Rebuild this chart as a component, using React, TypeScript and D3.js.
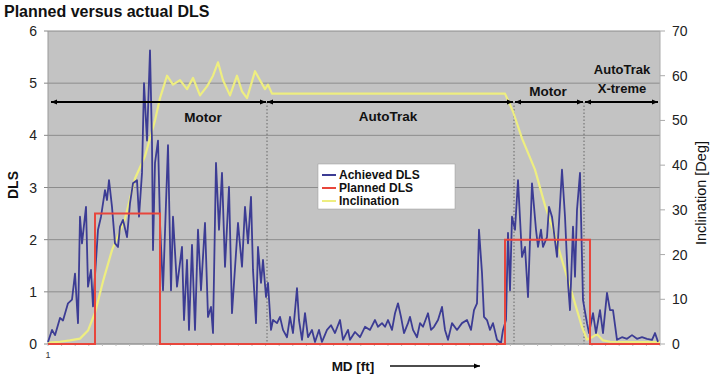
import React from "react";
import * as d3 from "d3";

// MD positions (arbitrary along-hole units) and achieved DLS
const achievedMD = [0,4,7,12,15,20,24,27,30,32,34,38,40,43,45,50,53,57,59,61,64,67,70,72,75,79,82,85,89,91,94,96,99,102,104,105,107,110,112,115,120,123,125,129,134,136,139,141,144,147,150,153,157,160,163,165,168,171,174,177,181,184,190,194,197,200,203,205,208,210,213,215,218,220,223,225,229,232,235,239,242,245,249,251,254,257,260,264,267,271,274,279,283,287,292,295,300,302,307,312,317,322,327,330,334,337,340,344,347,350,353,356,360,362,365,369,372,375,380,383,386,390,394,397,400,404,409,414,419,423,426,429,431,434,436,439,442,445,449,453,455,458,460,462,464,467,470,474,477,480,484,488,490,493,495,499,501,504,509,514,517,520,522,525,527,529,532,535,539,541,545,548,552,555,559,562,565,569,574,579,584,589,594,599,604,607,610];
const achievedDLS = [0.04,0.27,0.17,0.5,0.45,0.78,0.85,1.35,0.4,2.44,1.93,2.63,1.1,1.42,0.72,2.19,2.44,2.95,2.76,3.14,2.63,1.93,1.86,2.25,2.38,2.05,2.7,3.08,3.14,2.44,3.28,5.0,3.9,5.63,3.85,1.8,3.47,3.9,2.32,1.03,3.81,1.03,2.44,1.1,1.86,0.46,1.61,0.27,1.9,0.27,2.19,1.03,2.32,0.52,0.71,0.21,3.47,2.19,3.28,1.48,3.01,0.59,2.32,1.48,2.63,1.93,2.82,1.42,0.4,1.86,1.17,1.61,0.9,1.17,0.27,0.46,0.4,0.52,0.27,0.13,0.52,0.21,1.07,0.46,0.08,0.59,0.13,0.27,0.04,0.27,0.04,0.27,0.36,0.21,0.46,0.08,0.27,0.08,0.23,0.13,0.33,0.27,0.46,0.33,0.4,0.33,0.46,0.27,0.59,0.78,0.52,0.21,0.4,0.52,0.27,0.13,0.4,0.33,0.59,0.27,0.33,0.46,0.71,0.27,0.08,0.4,0.27,0.4,0.46,0.27,0.65,0.78,2.19,1.36,0.52,0.46,0.27,0.4,0.08,0.02,0.27,0.46,2.13,1.03,2.44,2.19,3.14,1.67,1.86,0.9,3.08,2.19,1.86,2.19,1.86,2.05,2.63,2.44,1.67,3.34,2.44,1.17,0.65,2.25,1.29,2.57,3.28,0.84,0.4,0.21,0.59,0.21,0.65,0.21,0.98,0.65,0.65,0.08,0.13,0.1,0.17,0.1,0.13,0.1,0.08,0.21,0.04];

// Planned DLS (step profile)
const plannedMD = [0,47,47,112,112,457,457,542,542,612];
const plannedDLS = [0,0,2.5,2.5,0,0,2.0,2.0,0,0];

// Inclination [deg]
const inclMD = [0,12,22,32,40,47,55,64,77,87,97,102,107,112,119,125,132,139,145,152,159,165,170,175,182,189,194,199,207,212,217,220,224,457,465,474,487,497,505,515,525,534,539,544,549,555,562,612];
const inclDeg = [0.3,0.5,0.8,1.2,3,7,14,21,28,37,42,46,50,55,60,58,59,57,59.5,55.6,57.6,60,63,59,55.6,60,56.5,55,61,59,57,58,56,56,52,46,39,31,25.7,18,10.6,3.8,1,1.5,2.2,0.8,0.5,0.4];

const dlsTicks = [0,1,2,3,4,5,6];
const inclTicks = [0,10,20,30,40,50,60,70];

// Section annotations (MD ranges) and boundaries
const sectionNames = ["Motor","AutoTrak","Motor","AutoTrak X-treme"];
const sectionStart = [3,219,467,537];
const sectionEnd = [218,465,535,610];
const boundaries = [219,466,536];

const seriesNames = ["Achieved DLS","Planned DLS","Inclination"];
const seriesColors = ["#3c3c94","#e8463c","#eeee80"];

export default function App() {
  const W = 720, H = 385;
  const L = 48, R = 660, T = 31, B = 344;
  const x = d3.scaleLinear().domain([0, 612]).range([L, R]);
  const yL = d3.scaleLinear().domain([0, 6]).range([B, T]);
  const yR = d3.scaleLinear().domain([0, 70]).range([B, T]);
  const font = "'Liberation Sans', Arial, sans-serif";

  const lineA = d3.line<number>().x((d, i) => x(achievedMD[i])).y((d) => yL(d));
  const lineP = d3.line<number>().x((d, i) => x(plannedMD[i])).y((d) => yL(d));
  const lineI = d3.line<number>().x((d, i) => x(inclMD[i])).y((d) => yR(d));

  const arrowY = 102;
  const minorTicks = d3.range(0, 613, 13.6);

  return (
    <svg width={W} height={H} style={{ display: "block", position: "absolute", left: 0, top: 0 }} fontFamily={font}>
      <defs>
        <marker id="ah" viewBox="0 0 10 10" refX="10" refY="5" markerWidth="7" markerHeight="6" orient="auto-start-reverse" markerUnits="userSpaceOnUse">
          <path d="M0,1 L10,5 L0,9 z" fill="#000" />
        </marker>
      </defs>
      <rect x={0} y={0} width={W} height={H} fill="#fff" />
      <text x={4} y={17} fontSize={16} fontWeight="bold" fill="#111">Planned versus actual DLS</text>

      <rect x={L} y={T} width={R - L} height={B - T} fill="#c3c3c3" />
      {dlsTicks.map((t) => (
        <line key={"g" + t} x1={L} x2={R} y1={yL(t)} y2={yL(t)} stroke="#8c8c8c" strokeWidth={1} />
      ))}
      {/* left axis */}
      <line x1={L} x2={L} y1={T} y2={B} stroke="#999" />
      {dlsTicks.map((t) => (
        <g key={"l" + t}>
          <line x1={L - 4} x2={L} y1={yL(t)} y2={yL(t)} stroke="#888" />
          <text x={L - 11} y={yL(t) + 5} fontSize={14} textAnchor="end" fill="#222">{t}</text>
        </g>
      ))}
      {/* right axis */}
      <line x1={R} x2={R} y1={T} y2={B} stroke="#aaa" />
      {inclTicks.map((t) => (
        <g key={"r" + t}>
          <line x1={R} x2={R + 5} y1={yR(t)} y2={yR(t)} stroke="#aaa" />
          <text x={R + 12} y={yR(t) + 5} fontSize={14} textAnchor="start" fill="#222">{t}</text>
        </g>
      ))}
      {/* bottom ticks */}
      <line x1={L} x2={R} y1={B} y2={B} stroke="#999" />
      {minorTicks.map((m, i) => (
        <line key={"m" + i} x1={x(m)} x2={x(m)} y1={B} y2={B + 2} stroke="#bbb" />
      ))}
      <text x={L} y={358} fontSize={9} textAnchor="middle" fill="#333">1</text>

      {/* boundaries */}
      {boundaries.map((b, i) => (
        <line key={"b" + i} x1={x(b)} x2={x(b)} y1={arrowY} y2={B} stroke="#666" strokeWidth={1} strokeDasharray="1.5,2" />
      ))}

      {/* series */}
      <path d={lineI(inclDeg) || ""} fill="none" stroke={seriesColors[2]} strokeWidth={2.2} strokeLinejoin="round" />
      <path d={lineA(achievedDLS) || ""} fill="none" stroke={seriesColors[0]} strokeWidth={1.8} strokeLinejoin="round" />
      <path d={lineP(plannedDLS) || ""} fill="none" stroke={seriesColors[1]} strokeWidth={2} />

      {/* section arrows */}
      {sectionStart.map((s, i) => (
        <line key={"a" + i} x1={x(s)} x2={x(sectionEnd[i])} y1={arrowY} y2={arrowY} stroke="#000" strokeWidth={1.8} markerStart="url(#ah)" markerEnd="url(#ah)" />
      ))}
      <text x={203} y={122} fontSize={13.5} fontWeight="bold" textAnchor="middle" fill="#111">{sectionNames[0]}</text>
      <text x={388} y={121} fontSize={13.5} fontWeight="bold" textAnchor="middle" fill="#111">{sectionNames[1]}</text>
      <text x={548} y={96} fontSize={13.5} fontWeight="bold" textAnchor="middle" fill="#111">{sectionNames[2]}</text>
      <text x={622} y={74} fontSize={13} fontWeight="bold" textAnchor="middle" fill="#111">AutoTrak</text>
      <text x={622} y={93} fontSize={13} fontWeight="bold" textAnchor="middle" fill="#111">X-treme</text>

      {/* legend */}
      <rect x={318} y={164} width={137} height={45} fill="#fff" stroke="#999" strokeWidth={0.5} />
      {seriesNames.map((n, i) => (
        <g key={"lg" + i}>
          <line x1={322} x2={336} y1={175 + i * 13} y2={175 + i * 13} stroke={seriesColors[i]} strokeWidth={2} />
          <text x={339} y={179 + i * 13} fontSize={12} fontWeight="bold" fill="#111">{n}</text>
        </g>
      ))}

      {/* axis titles */}
      <text transform="translate(18,185) rotate(-90)" fontSize={14} fontWeight="bold" textAnchor="middle" fill="#111">DLS</text>
      <text transform="translate(706,193) rotate(-90)" fontSize={14.5} textAnchor="middle" fill="#111">Inclination [Deg]</text>
      <text x={353} y={371} fontSize={13.5} fontWeight="bold" textAnchor="middle" fill="#111">MD [ft]</text>
      <line x1={390} x2={480} y1={366} y2={366} stroke="#111" strokeWidth={1.5} markerEnd="url(#ah)" />
    </svg>
  );
}
